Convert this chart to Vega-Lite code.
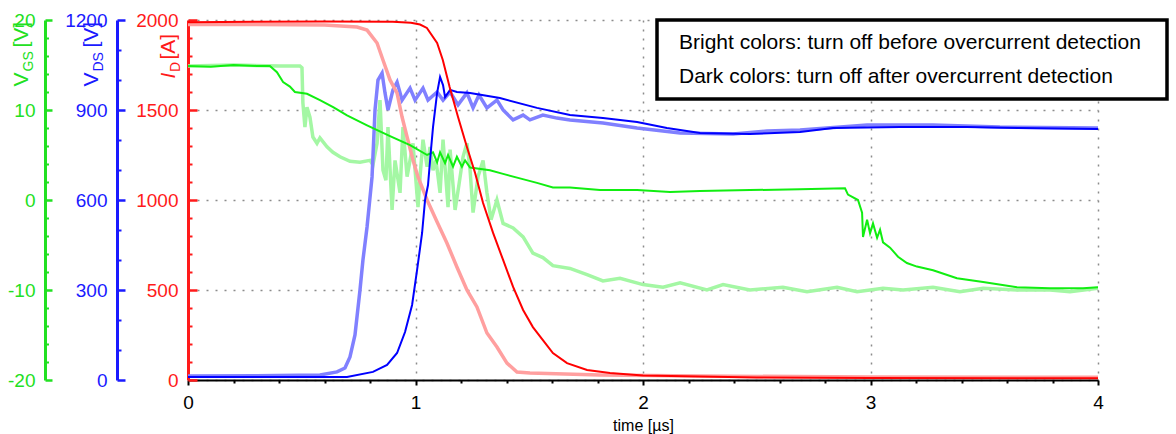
{
  "$schema": "https://vega.github.io/schema/vega-lite/v6.json",
  "width": 910,
  "height": 360,
  "autosize": {"type": "none"},
  "padding": {"left": 188, "top": 20, "right": 78, "bottom": 54},
  "background": "white",
  "config": {
    "view": {"stroke": null},
    "font": "Liberation Sans",
    "axis": {"labelFont": "Liberation Sans", "titleFont": "Liberation Sans", "titleFontWeight": "normal", "labelFlush": false, "labelOverlap": false},
    "legend": {"labelFont": "Liberation Sans", "titleFont": "Liberation Sans", "strokeWidth": 3.5}
  },
  "datasets": {
    "vgsBright": [
      {"t":0,"v":14.9},{"t":0.2,"v":15.0},{"t":0.4,"v":14.9},{"t":0.492,"v":14.9},{"t":0.501,"v":14.7},{"t":0.505,"v":10.8},{"t":0.514,"v":8.1},{"t":0.523,"v":10.3},{"t":0.536,"v":9.2},{"t":0.549,"v":7.0},{"t":0.567,"v":6.3},{"t":0.58,"v":6.9},{"t":0.611,"v":5.9},{"t":0.637,"v":5.3},{"t":0.668,"v":4.8},{"t":0.712,"v":4.3},{"t":0.756,"v":4.2},{"t":0.8,"v":4.4},{"t":0.813,"v":3.9},{"t":0.831,"v":6.3},{"t":0.844,"v":11.1},{"t":0.857,"v":3.3},{"t":0.87,"v":2.2},{"t":0.879,"v":8.1},{"t":0.897,"v":-1.1},{"t":0.91,"v":4.4},{"t":0.932,"v":0.8},{"t":0.945,"v":8.1},{"t":0.963,"v":2.6},{"t":0.976,"v":4.4},{"t":0.989,"v":6.3},{"t":1.011,"v":-0.8},{"t":1.02,"v":2.6},{"t":1.033,"v":6.7},{"t":1.051,"v":3.7},{"t":1.064,"v":5.9},{"t":1.077,"v":3.3},{"t":1.09,"v":4.4},{"t":1.108,"v":0.8},{"t":1.121,"v":6.7},{"t":1.143,"v":-0.8},{"t":1.152,"v":5.6},{"t":1.174,"v":-1.1},{"t":1.191,"v":1.7},{"t":1.209,"v":4.8},{"t":1.226,"v":6.3},{"t":1.24,"v":3.3},{"t":1.253,"v":-1.4},{"t":1.275,"v":2.6},{"t":1.297,"v":4.4},{"t":1.314,"v":0.8},{"t":1.332,"v":-2.2},{"t":1.358,"v":0},{"t":1.385,"v":-2.6},{"t":1.429,"v":-3.1},{"t":1.473,"v":-4.1},{"t":1.516,"v":-5.9},{"t":1.56,"v":-6.4},{"t":1.604,"v":-7.3},{"t":1.679,"v":-7.6},{"t":1.754,"v":-8.3},{"t":1.824,"v":-9.0},{"t":1.899,"v":-8.7},{"t":2.0,"v":-9.4},{"t":2.088,"v":-9.7},{"t":2.163,"v":-9.2},{"t":2.281,"v":-10.0},{"t":2.352,"v":-9.4},{"t":2.47,"v":-10.0},{"t":2.615,"v":-9.7},{"t":2.721,"v":-10.2},{"t":2.853,"v":-9.7},{"t":2.941,"v":-10.2},{"t":3.055,"v":-9.8},{"t":3.143,"v":-10.0},{"t":3.275,"v":-9.7},{"t":3.393,"v":-10.2},{"t":3.495,"v":-9.8},{"t":3.644,"v":-10.0},{"t":3.789,"v":-10.0},{"t":3.877,"v":-10.2},{"t":4.0,"v":-9.8}
    ],
    "vgsDark": [
      {"t":0,"v":14.9},{"t":0.1,"v":14.8},{"t":0.2,"v":15.0},{"t":0.3,"v":14.9},{"t":0.36,"v":14.9},{"t":0.391,"v":14.2},{"t":0.418,"v":13.1},{"t":0.448,"v":12.6},{"t":0.47,"v":12.0},{"t":0.523,"v":11.8},{"t":0.58,"v":11.1},{"t":0.64,"v":10.3},{"t":0.699,"v":9.4},{"t":0.787,"v":8.3},{"t":0.888,"v":7.1},{"t":0.976,"v":6.1},{"t":1.051,"v":5.0},{"t":1.077,"v":5.3},{"t":1.095,"v":4.2},{"t":1.108,"v":5.3},{"t":1.13,"v":4.1},{"t":1.143,"v":5.0},{"t":1.165,"v":3.7},{"t":1.182,"v":4.8},{"t":1.204,"v":3.7},{"t":1.218,"v":4.4},{"t":1.24,"v":3.6},{"t":1.327,"v":3.3},{"t":1.385,"v":2.9},{"t":1.459,"v":2.4},{"t":1.534,"v":1.9},{"t":1.604,"v":1.4},{"t":1.679,"v":1.4},{"t":1.811,"v":1.1},{"t":1.974,"v":1.1},{"t":2.119,"v":0.9},{"t":2.251,"v":1.0},{"t":2.47,"v":1.1},{"t":2.69,"v":1.2},{"t":2.888,"v":1.3},{"t":2.901,"v":0.6},{"t":2.945,"v":0},{"t":2.963,"v":-1.4},{"t":2.967,"v":-4.1},{"t":2.985,"v":-2.2},{"t":2.998,"v":-3.7},{"t":3.011,"v":-2.6},{"t":3.029,"v":-4.2},{"t":3.042,"v":-3.3},{"t":3.055,"v":-4.7},{"t":3.086,"v":-5.3},{"t":3.121,"v":-6.3},{"t":3.16,"v":-7.0},{"t":3.204,"v":-7.4},{"t":3.275,"v":-7.8},{"t":3.38,"v":-8.7},{"t":3.495,"v":-9.1},{"t":3.644,"v":-9.7},{"t":3.789,"v":-9.8},{"t":3.934,"v":-9.8},{"t":4.0,"v":-9.7}
    ],
    "vdsBright": [
      {"t":0,"v":13},{"t":0.3,"v":14},{"t":0.58,"v":17},{"t":0.655,"v":27},{"t":0.69,"v":40},{"t":0.712,"v":77},{"t":0.734,"v":150},{"t":0.756,"v":300},{"t":0.769,"v":400},{"t":0.787,"v":510},{"t":0.809,"v":677},{"t":0.822,"v":900},{"t":0.835,"v":1000},{"t":0.853,"v":1023},{"t":0.866,"v":957},{"t":0.879,"v":900},{"t":0.901,"v":967},{"t":0.919,"v":993},{"t":0.941,"v":933},{"t":0.976,"v":973},{"t":0.998,"v":933},{"t":1.033,"v":973},{"t":1.055,"v":933},{"t":1.095,"v":960},{"t":1.121,"v":933},{"t":1.152,"v":960},{"t":1.187,"v":917},{"t":1.226,"v":957},{"t":1.253,"v":907},{"t":1.279,"v":950},{"t":1.314,"v":907},{"t":1.358,"v":933},{"t":1.385,"v":900},{"t":1.429,"v":867},{"t":1.473,"v":883},{"t":1.503,"v":867},{"t":1.56,"v":883},{"t":1.622,"v":873},{"t":1.679,"v":867},{"t":1.824,"v":857},{"t":1.974,"v":840},{"t":2.163,"v":823},{"t":2.396,"v":820},{"t":2.545,"v":830},{"t":2.69,"v":833},{"t":2.985,"v":850},{"t":3.275,"v":850},{"t":3.569,"v":843},{"t":4.0,"v":840}
    ],
    "vdsDark": [
      {"t":0,"v":10},{"t":0.35,"v":10},{"t":0.699,"v":10},{"t":0.813,"v":27},{"t":0.875,"v":50},{"t":0.919,"v":90},{"t":0.954,"v":160},{"t":0.985,"v":250},{"t":1.007,"v":367},{"t":1.029,"v":490},{"t":1.042,"v":600},{"t":1.055,"v":650},{"t":1.068,"v":767},{"t":1.077,"v":843},{"t":1.095,"v":957},{"t":1.108,"v":1010},{"t":1.121,"v":983},{"t":1.13,"v":943},{"t":1.152,"v":967},{"t":1.182,"v":960},{"t":1.24,"v":957},{"t":1.371,"v":940},{"t":1.534,"v":907},{"t":1.679,"v":883},{"t":1.824,"v":873},{"t":1.974,"v":860},{"t":2.105,"v":840},{"t":2.251,"v":823},{"t":2.47,"v":820},{"t":2.69,"v":827},{"t":2.835,"v":840},{"t":3.13,"v":843},{"t":3.424,"v":843},{"t":3.657,"v":840},{"t":4.0,"v":837}
    ],
    "idBright": [
      {"t":0,"v":1975},{"t":0.3,"v":1975},{"t":0.6,"v":1972},{"t":0.743,"v":1961},{"t":0.787,"v":1944},{"t":0.831,"v":1872},{"t":0.857,"v":1778},{"t":0.888,"v":1667},{"t":0.919,"v":1594},{"t":0.941,"v":1461},{"t":0.963,"v":1350},{"t":0.989,"v":1222},{"t":1.011,"v":1128},{"t":1.051,"v":1000},{"t":1.095,"v":878},{"t":1.138,"v":761},{"t":1.182,"v":628},{"t":1.226,"v":500},{"t":1.27,"v":406},{"t":1.314,"v":261},{"t":1.358,"v":183},{"t":1.402,"v":94},{"t":1.446,"v":44},{"t":1.503,"v":39},{"t":1.81,"v":28},{"t":2.25,"v":22},{"t":3.0,"v":17},{"t":4.0,"v":15}
    ],
    "idDark": [
      {"t":0,"v":1988},{"t":0.3,"v":1990},{"t":0.6,"v":1991},{"t":0.9,"v":1990},{"t":0.98,"v":1985},{"t":1.02,"v":1975},{"t":1.05,"v":1956},{"t":1.095,"v":1872},{"t":1.12,"v":1778},{"t":1.15,"v":1628},{"t":1.187,"v":1461},{"t":1.226,"v":1294},{"t":1.262,"v":1150},{"t":1.297,"v":983},{"t":1.341,"v":817},{"t":1.385,"v":667},{"t":1.429,"v":517},{"t":1.473,"v":389},{"t":1.516,"v":294},{"t":1.56,"v":222},{"t":1.604,"v":150},{"t":1.666,"v":94},{"t":1.754,"v":56},{"t":1.855,"v":39},{"t":2.0,"v":25},{"t":2.5,"v":14},{"t":3.0,"v":11},{"t":4.0,"v":10}
    ],
    "notes": [
      {"note": "Bright colors: turn off before overcurrent detection"},
      {"note": "Dark colors: turn off after overcurrent detection"}
    ]
  },
  "layer": [
    {
      "data": {"name": "vgsBright"},
      "mark": {"type": "line", "color": "#a4f7a4", "strokeWidth": 3.5, "clip": true},
      "encoding": {
        "x": {"field": "t", "type": "quantitative", "scale": {"domain": [0, 4], "nice": false, "zero": false}, "axis": null},
        "y": {"field": "v", "type": "quantitative", "scale": {"domain": [-20, 20], "nice": false, "zero": false},
          "axis": {"orient": "left", "offset": 143, "values": [-20, -10, 0, 10, 20], "labelExpr": "'' + datum.value", "domainColor": "#22e022", "domainWidth": 3, "tickColor": "#22e022", "tickWidth": 2.5, "tickSize": -7, "labelColor": "#22e022", "labelFontSize": 19, "labelPadding": 17, "grid": false,
            "title": "V", "titleColor": "#22e022", "titleFontSize": 21, "titleAngle": -90, "titleAlign": "left", "titleBaseline": "alphabetic", "titleX": -18, "titleY": 66}}
      }
    },
    {
      "data": {"name": "vdsBright"},
      "mark": {"type": "line", "color": "#8080ff", "strokeWidth": 3.5, "clip": true},
      "encoding": {
        "x": {"field": "t", "type": "quantitative", "scale": {"domain": [0, 4], "nice": false, "zero": false}, "axis": null},
        "y": {"field": "v", "type": "quantitative", "scale": {"domain": [0, 1200], "nice": false, "zero": false},
          "axis": {"orient": "left", "offset": 71, "values": [0, 300, 600, 900, 1200], "labelExpr": "'' + datum.value", "domainColor": "#1a1aff", "domainWidth": 3, "tickColor": "#1a1aff", "tickWidth": 2.5, "tickSize": -8, "labelColor": "#1a1aff", "labelFontSize": 19, "labelPadding": 18, "grid": false,
            "title": "V", "titleColor": "#1a1aff", "titleFontSize": 21, "titleAngle": -90, "titleAlign": "left", "titleBaseline": "alphabetic", "titleX": -20, "titleY": 66}}
      }
    },
    {
      "data": {"name": "idBright"},
      "mark": {"type": "line", "color": "#ff9f9f", "strokeWidth": 3.5, "clip": true},
      "encoding": {
        "x": {"field": "t", "type": "quantitative", "scale": {"domain": [0, 4], "nice": false, "zero": false},
          "axis": {"orient": "bottom", "values": [0, 1, 2, 3, 4], "domainColor": "black", "domainWidth": 2, "tickColor": "black", "tickWidth": 2, "tickSize": 5, "labelColor": "black", "labelFontSize": 19, "labelPadding": 8, "grid": true, "gridDash": [2, 7], "gridColor": "#8c8c8c", "gridWidth": 1.5,
            "title": "time [µs]", "titleColor": "black", "titleFontSize": 16, "titleBaseline": "alphabetic", "titleY": 50}},
        "y": {"field": "v", "type": "quantitative", "scale": {"domain": [0, 2000], "nice": false, "zero": false},
          "axis": {"orient": "left", "offset": 0, "values": [0, 500, 1000, 1500, 2000], "labelExpr": "'' + datum.value", "domainColor": "#ff1a1a", "domainWidth": 3, "tickColor": "#ff1a1a", "tickWidth": 2.5, "tickSize": -9, "labelColor": "#ff1a1a", "labelFontSize": 19, "labelPadding": 19, "grid": true, "gridDash": [2, 7], "gridColor": "#8c8c8c", "gridWidth": 1.5,
            "title": "I", "titleColor": "#ff1a1a", "titleFontSize": 21, "titleFontStyle": "italic", "titleAngle": -90, "titleAlign": "left", "titleBaseline": "alphabetic", "titleX": -14, "titleY": 58}}
      }
    },
    {
      "data": {"name": "vgsDark"},
      "mark": {"type": "line", "color": "#11ee11", "strokeWidth": 2, "clip": true},
      "encoding": {
        "x": {"field": "t", "type": "quantitative", "scale": {"domain": [0, 4], "nice": false, "zero": false}, "axis": null},
        "y": {"field": "v", "type": "quantitative", "scale": {"domain": [-20, 20], "nice": false, "zero": false},
          "axis": {"orient": "left", "offset": 143, "values": [-18, -16, -14, -12, -8, -6, -4, -2, 2, 4, 6, 8, 12, 14, 16, 18], "domain": false, "labels": false, "tickColor": "#22e022", "tickWidth": 2, "tickSize": -3.5, "grid": false,
            "title": "GS", "titleColor": "#22e022", "titleFontSize": 14, "titleAngle": -90, "titleAlign": "left", "titleBaseline": "alphabetic", "titleX": -13, "titleY": 51}}
      }
    },
    {
      "data": {"name": "vdsDark"},
      "mark": {"type": "line", "color": "#0000ff", "strokeWidth": 2, "clip": true},
      "encoding": {
        "x": {"field": "t", "type": "quantitative", "scale": {"domain": [0, 4], "nice": false, "zero": false}, "axis": null},
        "y": {"field": "v", "type": "quantitative", "scale": {"domain": [0, 1200], "nice": false, "zero": false},
          "axis": {"orient": "left", "offset": 71, "values": [100, 200, 400, 500, 700, 800, 1000, 1100], "domain": false, "labels": false, "tickColor": "#1a1aff", "tickWidth": 2, "tickSize": -4, "grid": false,
            "title": "DS", "titleColor": "#1a1aff", "titleFontSize": 14, "titleAngle": -90, "titleAlign": "left", "titleBaseline": "alphabetic", "titleX": -15, "titleY": 51}}
      }
    },
    {
      "data": {"name": "idDark"},
      "mark": {"type": "line", "color": "#ff0000", "strokeWidth": 2, "clip": true},
      "encoding": {
        "x": {"field": "t", "type": "quantitative", "scale": {"domain": [0, 4], "nice": false, "zero": false},
          "axis": {"orient": "bottom", "values": [0.2, 0.4, 0.6, 0.8, 1.2, 1.4, 1.6, 1.8, 2.2, 2.4, 2.6, 2.8, 3.2, 3.4, 3.6, 3.8], "domain": false, "labels": false, "tickColor": "black", "tickWidth": 2, "tickSize": 3, "grid": false, "title": null}},
        "y": {"field": "v", "type": "quantitative", "scale": {"domain": [0, 2000], "nice": false, "zero": false},
          "axis": {"orient": "left", "offset": 0, "values": [100, 200, 300, 400, 600, 700, 800, 900, 1100, 1200, 1300, 1400, 1600, 1700, 1800, 1900], "domain": false, "labels": false, "tickColor": "#ff1a1a", "tickWidth": 2, "tickSize": -4, "grid": false,
            "title": "D", "titleColor": "#ff1a1a", "titleFontSize": 14, "titleAngle": -90, "titleAlign": "left", "titleBaseline": "alphabetic", "titleX": -9, "titleY": 51.5}}
      }
    },
    {
      "data": {"name": "notes"},
      "mark": {"type": "point", "opacity": 0},
      "encoding": {
        "y": {"datum": 0, "type": "quantitative", "scale": {"domain": [-20, 20], "nice": false, "zero": false},
          "axis": {"orient": "left", "offset": 143, "domain": false, "labels": false, "ticks": false, "grid": false,
            "title": "[V]", "titleColor": "#22e022", "titleFontSize": 21, "titleAngle": -90, "titleAlign": "left", "titleBaseline": "alphabetic", "titleX": -18, "titleY": 27}}
      }
    },
    {
      "data": {"name": "notes"},
      "mark": {"type": "point", "opacity": 0},
      "encoding": {
        "y": {"datum": 0, "type": "quantitative", "scale": {"domain": [0, 1200], "nice": false, "zero": false},
          "axis": {"orient": "left", "offset": 71, "domain": false, "labels": false, "ticks": false, "grid": false,
            "title": "[V]", "titleColor": "#1a1aff", "titleFontSize": 21, "titleAngle": -90, "titleAlign": "left", "titleBaseline": "alphabetic", "titleX": -20, "titleY": 27}}
      }
    },
    {
      "data": {"name": "notes"},
      "mark": {"type": "point", "opacity": 0},
      "encoding": {
        "y": {"datum": 0, "type": "quantitative", "scale": {"domain": [0, 2000], "nice": false, "zero": false},
          "axis": {"orient": "left", "offset": 0, "domain": false, "labels": false, "ticks": false, "grid": false,
            "title": "[A]", "titleColor": "#ff1a1a", "titleFontSize": 21, "titleAngle": -90, "titleAlign": "left", "titleBaseline": "alphabetic", "titleX": -14, "titleY": 39}},
        "shape": {"field": "note", "type": "nominal",
          "scale": {"domain": ["Bright colors: turn off before overcurrent detection", "Dark colors: turn off after overcurrent detection"]},
          "legend": {"orient": "none", "legendX": 469, "legendY": 0, "direction": "vertical", "title": " ", "titleOrient": "right", "titleFontSize": 2, "titlePadding": 14,
            "symbolSize": 0, "symbolOpacity": 0, "symbolStrokeWidth": 0, "labelFontSize": 21, "labelColor": "black", "labelLimit": 0, "labelOffset": -11, "rowPadding": 12, "padding": 12,
            "strokeColor": "black", "fillColor": "white"}}
      }
    }
  ],
  "resolve": {"scale": {"x": "independent", "y": "independent", "shape": "independent"}}
}
